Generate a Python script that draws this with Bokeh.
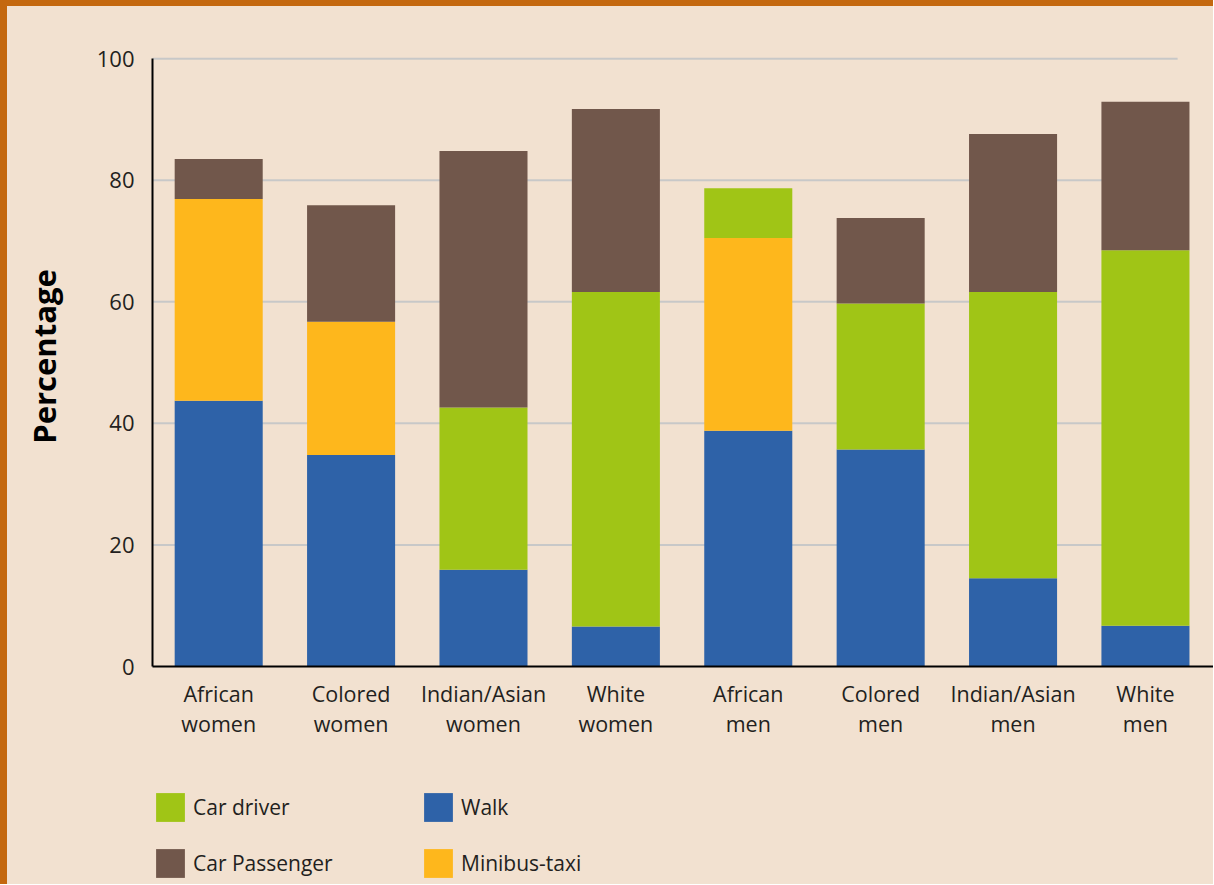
from bokeh.plotting import figure
from bokeh.layouts import column
from bokeh.models import Legend, LegendItem, FixedTicker, ColumnDataSource
from bokeh.embed import file_html
from bokeh.resources import INLINE

# ---- data ----
groups = ["African\nwomen", "Colored\nwomen", "Indian/Asian\nwomen", "White\nwomen",
          "African\nmen", "Colored\nmen", "Indian/Asian\nmen", "White\nmen"]
walk = [43.7, 34.8, 15.9, 6.6, 38.8, 35.7, 14.5, 6.7]
minibus_taxi = [33.2, 21.9, 0, 0, 31.7, 0, 0, 0]
car_driver = [0, 0, 26.7, 55.0, 8.2, 24.0, 47.1, 61.8]
car_passenger = [6.6, 19.2, 42.2, 30.1, 0, 14.1, 26.0, 24.4]
y_ticks = [0, 20, 40, 60, 80, 100]
series = ["walk", "minibus_taxi", "car_driver", "car_passenger"]
series_labels = {"walk": "Walk", "minibus_taxi": "Minibus-taxi",
                 "car_driver": "Car driver", "car_passenger": "Car Passenger"}
legend_order = ["car_driver", "car_passenger", "walk", "minibus_taxi"]

# ---- style ----
BG = "#f2e1d0"
ORANGE = "#c4680f"
TXT = "#231f20"
FONT = "Open Sans"
colors = {"walk": "#2e62a8", "minibus_taxi": "#feb71c",
          "car_driver": "#a0c516", "car_passenger": "#71574b"}

xs = list(range(len(groups)))
source = ColumnDataSource(dict(x=xs, walk=walk, minibus_taxi=minibus_taxi,
                               car_driver=car_driver, car_passenger=car_passenger))

p = figure(width=1206, height=764, x_range=(-0.5, 7.514), y_range=(0, 102),
           output_backend="svg", toolbar_location=None,
           background_fill_color=None, border_fill_color=None, outline_line_color=None,
           min_border_top=40, min_border_left=145, min_border_right=0, min_border_bottom=104)

# gridlines (stop short of the right edge as in the original)
grid_y = [t for t in y_ticks if t > 0]
p.segment(x0=[-0.5] * len(grid_y), x1=[7.243] * len(grid_y), y0=grid_y, y1=grid_y,
          line_color="#c8c8c8", line_width=2)

rs = p.vbar_stack(series, x="x", width=0.665, source=source,
                  color=[colors[s] for s in series], line_color=None)

p.xgrid.visible = False
p.ygrid.visible = False

# y axis
ya = p.yaxis[0]
ya.ticker = FixedTicker(ticks=y_ticks)
ya.bounds = (0, 100)
ya.axis_line_width = 2
ya.axis_line_color = "black"
ya.major_tick_line_color = None
ya.minor_tick_line_color = None
ya.major_label_text_font = FONT
ya.major_label_text_font_size = "22px"
ya.major_label_text_color = TXT
ya.major_label_standoff = 12
ya.axis_label = "Percentage"
ya.axis_label_text_font = FONT
ya.axis_label_text_font_style = "bold"
ya.axis_label_text_font_size = "31px"
ya.axis_label_text_color = "black"
ya.axis_label_standoff = 29

# x axis
xa = p.xaxis[0]
xa.ticker = FixedTicker(ticks=xs)
xa.major_label_overrides = {i: g for i, g in zip(xs, groups)}
xa.axis_line_width = 2
xa.axis_line_color = "black"
xa.major_tick_line_color = None
xa.minor_tick_line_color = None
xa.major_label_text_font = FONT
xa.major_label_text_font_size = "21.5px"
xa.major_label_text_color = TXT
xa.major_label_text_line_height = 1.05
xa.major_label_standoff = 6

# legend panel: a second, axis-less figure under the chart
p2 = figure(width=1206, height=114, x_range=(0, 1), y_range=(0, 1),
            output_backend="svg", toolbar_location=None, x_axis_type=None, y_axis_type=None,
            background_fill_color=None, border_fill_color=None, outline_line_color=None,
            min_border=0)
p2.grid.visible = False
keys = {}
for s in series:
    # legend-key stand-ins: zero height and outside the visible range, so nothing is drawn
    keys[s] = p2.vbar(x=[-10], top=[0], width=0.1, fill_color=colors[s], line_color=None)

legend = Legend(items=[LegendItem(label=series_labels[s], renderers=[keys[s]]) for s in legend_order],
                orientation="vertical", nrows=2, location=(0, 3),
                glyph_width=36, glyph_height=36, label_standoff=5, spacing=20,
                label_width=207, label_height=29, padding=0, margin=0,
                border_line_color=None, background_fill_alpha=0,
                label_text_font=FONT, label_text_font_size="21px", label_text_color=TXT)
p2.add_layout(legend, "center")

page = column(p, p2, spacing=0,
              styles={"background-color": BG,
                      "border-left": "7px solid " + ORANGE, "border-top": "6px solid " + ORANGE})

open("out.html", "w").write(file_html(page, INLINE))
